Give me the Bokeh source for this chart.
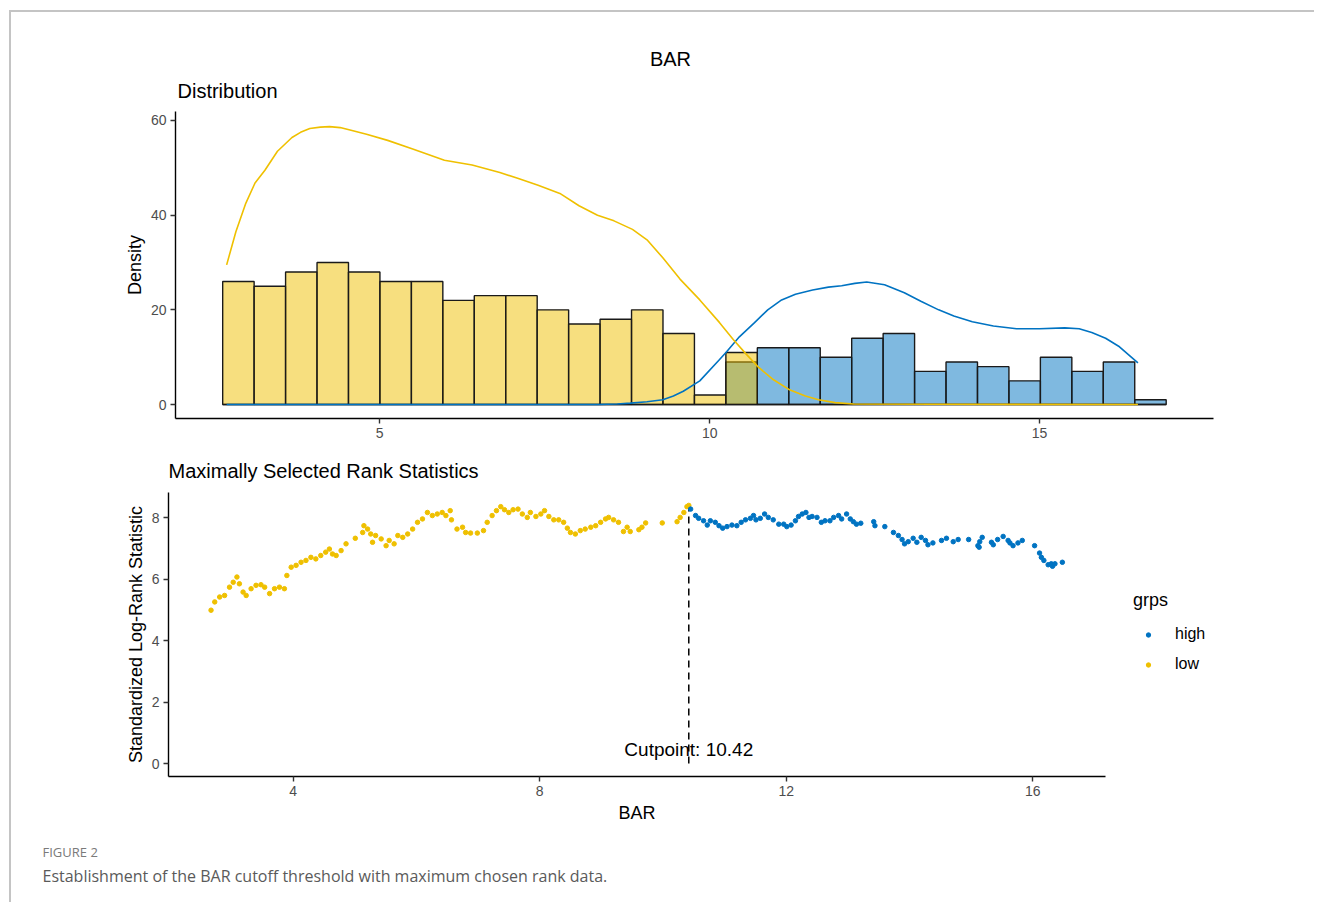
import numpy as np
from bokeh.plotting import figure
from bokeh.models import Range1d, Legend, LegendItem, Div, FixedTicker
from bokeh.layouts import column, row
from bokeh.embed import file_html
from bokeh.resources import INLINE
from bokeh.core.properties import value

# ---------------- data ----------------
# histogram (30 bins)
bin_start = 2.62
bin_width = 0.4766
low_counts = [26, 25, 28, 30, 28, 26, 26, 22, 23, 23, 20, 17, 18, 20, 15, 2, 11,
              0, 0, 0, 0, 0, 0, 0, 0, 0, 0, 0, 0, 0]
high_counts = [0, 0, 0, 0, 0, 0, 0, 0, 0, 0, 0, 0, 0, 0, 0, 0,
               9, 12, 12, 10, 14, 15, 7, 9, 8, 5, 10, 7, 9, 1]

# density curves (scaled)
low_dens_x = [2.68, 2.82, 2.97, 3.11, 3.26, 3.45, 3.67, 3.80, 3.94, 4.10, 4.24, 4.40, 4.55,
              4.80, 5.12, 5.50, 5.98, 6.40, 6.82, 7.09, 7.40, 7.73, 8.02, 8.30, 8.55, 8.83,
              9.05, 9.29, 9.55, 9.85, 10.15, 10.36, 10.55, 10.73, 10.95, 11.20, 11.45, 11.65,
              11.90, 12.18, 16.49]
low_dens_y = [29.5, 36.5, 42.5, 46.8, 49.5, 53.5, 56.4, 57.5, 58.3, 58.6, 58.7, 58.5, 58.0,
              57.1, 55.8, 54.0, 51.6, 50.6, 49.0, 47.8, 46.3, 44.6, 42.0, 40.0, 38.8, 37.0,
              34.8, 31.0, 26.5, 22.1, 17.3, 13.7, 10.7, 8.0, 5.4, 3.2, 1.8, 1.0,
              0.4, 0.1, 0.0]
high_dens_x = [2.68, 8.30, 8.60, 8.80, 9.05, 9.29, 9.45, 9.60, 9.85, 10.15, 10.26, 10.45,
               10.68, 10.88, 11.09, 11.30, 11.56, 11.80, 12.00, 12.20, 12.38, 12.65, 12.95, 13.20,
               13.47, 13.70, 13.98, 14.30, 14.65, 15.00, 15.38, 15.60, 15.79, 16.00, 16.21, 16.49]
high_dens_y = [0.0, 0.0, 0.1, 0.3, 0.6, 1.0, 1.8, 2.8, 5.0, 9.5, 11.2, 14.3,
               17.3, 20.0, 22.1, 23.3, 24.2, 24.8, 25.1, 25.6, 25.9, 25.3, 23.6, 21.8,
               20.0, 18.7, 17.5, 16.6, 16.0, 16.0, 16.2, 16.0, 15.2, 14.0, 12.2, 8.8]

# maximally selected rank statistics
low_x = [2.67, 2.73, 2.81, 2.89, 2.97, 3.03, 3.09, 3.13, 3.19, 3.24, 3.32, 3.40, 3.48, 3.54,
         3.62, 3.70, 3.78, 3.86, 3.90, 3.97, 4.05, 4.13, 4.21, 4.29, 4.37, 4.45, 4.53, 4.59,
         4.64, 4.70, 4.78, 4.86, 5.01, 5.13, 5.15, 5.21, 5.26, 5.29, 5.34, 5.43, 5.51, 5.56,
         5.64, 5.70, 5.78, 5.86, 5.94, 6.02, 6.10, 6.18, 6.26, 6.34, 6.42, 6.48, 6.55, 6.57,
         6.66, 6.75, 6.80, 6.88, 6.99, 7.09, 7.15, 7.23, 7.30, 7.37, 7.43, 7.50, 7.57, 7.65,
         7.72, 7.80, 7.85, 7.94, 8.02, 8.08, 8.15, 8.23, 8.31, 8.39, 8.45, 8.50, 8.58, 8.66,
         8.74, 8.83, 8.91, 8.99, 9.07, 9.12, 9.20, 9.28, 9.36, 9.42, 9.47, 9.61, 9.66, 9.72,
         9.99, 10.23, 10.28, 10.34, 10.39, 10.42]
low_y = [4.99, 5.26, 5.42, 5.47, 5.74, 5.90, 6.07, 5.85, 5.58, 5.47, 5.69, 5.80, 5.82, 5.74,
         5.53, 5.69, 5.74, 5.69, 6.12, 6.39, 6.45, 6.55, 6.61, 6.71, 6.66, 6.77, 6.88, 6.98,
         6.82, 6.77, 6.93, 7.15, 7.33, 7.52, 7.74, 7.63, 7.47, 7.20, 7.42, 7.31, 7.09, 7.26,
         7.15, 7.42, 7.36, 7.47, 7.63, 7.85, 7.96, 8.17, 8.07, 8.12, 8.17, 8.07, 8.23, 7.93,
         7.63, 7.69, 7.52, 7.50, 7.50, 7.58, 7.85, 8.07, 8.23, 8.36, 8.26, 8.17, 8.26, 8.28,
         8.12, 8.01, 8.17, 8.04, 8.12, 8.23, 8.04, 7.93, 7.93, 7.85, 7.66, 7.52, 7.47, 7.58,
         7.63, 7.69, 7.74, 7.85, 7.96, 8.01, 7.93, 7.85, 7.55, 7.69, 7.55, 7.61, 7.69, 7.83,
         7.83, 7.87, 8.01, 8.17, 8.36, 8.40]
high_x = [10.45, 10.53, 10.58, 10.66, 10.72, 10.77, 10.85, 10.91, 10.97, 11.04, 11.12, 11.20,
          11.27, 11.34, 11.42, 11.47, 11.51, 11.58, 11.65, 11.71, 11.79, 11.88, 11.96, 12.01,
          12.08, 12.15, 12.20, 12.26, 12.32, 12.37, 12.42, 12.50, 12.57, 12.63, 12.71, 12.77,
          12.85, 12.90, 12.98, 13.04, 13.09, 13.14, 13.21, 13.42, 13.44, 13.60, 13.74, 13.82,
          13.88, 13.92, 13.98, 14.06, 14.12, 14.19, 14.26, 14.30, 14.38, 14.52, 14.60, 14.71,
          14.79, 14.96, 15.11, 15.13, 15.14, 15.18, 15.33, 15.36, 15.43, 15.52, 15.60, 15.63,
          15.68, 15.76, 15.83, 16.03, 16.11, 16.14, 16.18, 16.25, 16.30, 16.32, 16.36, 16.48]
high_y = [8.28, 8.07, 7.98, 7.90, 7.76, 7.90, 7.85, 7.74, 7.66, 7.71, 7.76, 7.74,
          7.85, 7.93, 7.98, 8.07, 7.93, 7.98, 8.12, 8.01, 7.93, 7.79, 7.79, 7.71,
          7.76, 7.90, 8.04, 8.12, 8.17, 8.01, 8.04, 8.01, 7.85, 7.90, 7.90, 8.01,
          8.07, 7.96, 8.12, 7.96, 7.87, 7.79, 7.82, 7.87, 7.74, 7.71, 7.52, 7.42,
          7.29, 7.15, 7.22, 7.33, 7.20, 7.36, 7.26, 7.12, 7.18, 7.26, 7.33, 7.22,
          7.29, 7.29, 7.09, 7.04, 7.22, 7.36, 7.20, 7.12, 7.29, 7.39, 7.26, 7.18,
          7.09, 7.18, 7.26, 7.09, 6.85, 6.71, 6.61, 6.47, 6.50, 6.42, 6.50, 6.55]
cutpoint = 10.42
cut_stat = 8.40

top_xticks = [5, 10, 15]
top_yticks = [0, 20, 40, 60]
bot_xticks = [4, 8, 12, 16]
bot_yticks = [0, 2, 4, 6, 8]
group_labels = ["high", "low"]

# ---------------- styling ----------------
YELLOW = "#EFC000"
BLUE = "#0073C2"
FONT = "Liberation Sans"
CAP_FONT = "Open Sans"
GREY = "#c4c4c4"
W = 1303


def style(p):
    p.background_fill_color = "white"
    p.border_fill_color = "white"
    p.outline_line_color = None
    p.grid.visible = False
    for ax in p.axis:
        ax.axis_line_color = "black"
        ax.axis_line_width = 1.4
        ax.major_tick_line_color = "#333333"
        ax.major_tick_line_width = 1.4
        ax.major_tick_out = 5
        ax.major_tick_in = 0
        ax.minor_tick_line_color = None
        ax.major_label_text_font = FONT
        ax.major_label_text_font_size = "14px"
        ax.major_label_text_color = "#4D4D4D"
        ax.major_label_standoff = 4
        ax.axis_label_text_font = FONT
        ax.axis_label_text_font_size = "18px"
        ax.axis_label_text_font_style = "normal"
        ax.axis_label_text_color = "black"
        ax.axis_label_standoff = 3


def text_panel(w, h):
    """A blank strip whose frame fills it, used to hold titles/caption in pixel units."""
    f = figure(width=w, height=h, x_range=Range1d(0, w), y_range=Range1d(h, 0),
               min_border=0, output_backend="svg", toolbar_location=None)
    f.axis.visible = False
    f.grid.visible = False
    f.outline_line_color = None
    f.background_fill_color = "white"
    f.border_fill_color = "white"
    return f


def put_text(f, x, y, s, size, align="left", font=FONT, color="black"):
    f.text(x=[x], y=[y], text=[s], text_align=align, text_baseline="middle",
           text_font=value(font), text_font_size=size, text_color=color)


# ---------------- header strip ----------------
head = text_panel(W, 99)
put_text(head, 659, 46, "BAR", "20px", align="center")
put_text(head, 166, 78, "Distribution", "20px")

# ---------------- top: distribution ----------------
top = figure(frame_width=1038, frame_height=307,
             min_border_left=164, min_border_right=101, min_border_top=0, min_border_bottom=30,
             x_range=Range1d(1.905, 17.635), y_range=Range1d(-2.95, 61.9),
             output_backend="svg", toolbar_location=None)
style(top)
top.xaxis.ticker = FixedTicker(ticks=top_xticks)
top.yaxis.ticker = FixedTicker(ticks=top_yticks)
top.yaxis.axis_label = "Density"

lefts = bin_start + bin_width * np.arange(len(low_counts))
rights = lefts + bin_width
top.quad(left=lefts, right=rights, bottom=0, top=high_counts,
         fill_color=BLUE, fill_alpha=0.5, line_color="#1a1a1a", line_width=1.4)
top.quad(left=lefts, right=rights, bottom=0, top=low_counts,
         fill_color=YELLOW, fill_alpha=0.5, line_color="#1a1a1a", line_width=1.4)
top.line(high_dens_x, high_dens_y, line_color=BLUE, line_width=1.6)
top.line(low_dens_x, low_dens_y, line_color=YELLOW, line_width=1.6)

# ---------------- second header strip ----------------
head2 = text_panel(W, 44)
put_text(head2, 157, 22, "Maximally Selected Rank Statistics", "20px")

# ---------------- bottom: rank statistics ----------------
bot = figure(frame_width=937, frame_height=284,
             min_border_left=157, min_border_right=10, min_border_top=0, min_border_bottom=46,
             x_range=Range1d(1.98, 17.18), y_range=Range1d(-0.42, 8.82),
             output_backend="svg", toolbar_location=None)
style(bot)
bot.xaxis.ticker = FixedTicker(ticks=bot_xticks)
bot.yaxis.ticker = FixedTicker(ticks=bot_yticks)
bot.xaxis.axis_label = "BAR"
bot.yaxis.axis_label = "Standardized Log-Rank Statistic"
bot.xaxis.axis_label_standoff = 4

bot.segment(x0=[cutpoint], y0=[0], x1=[cutpoint], y1=[cut_stat],
            line_color="black", line_width=1.5, line_dash="7 5")
bot.scatter(low_x, low_y, size=4.5, color=YELLOW)
bot.scatter(high_x, high_y, size=4.5, color=BLUE)
bot.text(x=[cutpoint], y=[0], text=["Cutpoint: " + f"{cutpoint:.2f}"],
         text_align="center", text_baseline="bottom", y_offset=-4,
         text_font=value(FONT), text_font_size="19px", text_color="black")

# ---------------- legend strip (right of bottom panel) ----------------
bot_h = 284 + 46
leg_w = W - (157 + 937 + 10)
lf = text_panel(leg_w, bot_h)
# legend key glyphs (kept out of view; only their legend swatches are shown)
d_high = lf.scatter(x=[-100], y=[-100], size=4.5, color=BLUE)
d_low = lf.scatter(x=[-100], y=[-100], size=4.5, color=YELLOW)
legend = Legend(items=[LegendItem(label=group_labels[0], renderers=[d_high]),
                       LegendItem(label=group_labels[1], renderers=[d_low])],
                title="grps", location=(18, 149))
legend.title_text_font = FONT
legend.title_text_font_size = "18px"
legend.title_text_font_style = "normal"
legend.title_text_color = "black"
legend.title_standoff = 14
legend.label_text_font = FONT
legend.label_text_font_size = "16px"
legend.label_text_color = "black"
legend.glyph_width = 30
legend.glyph_height = 11
legend.label_height = 11
legend.label_standoff = 12
legend.spacing = 12
legend.padding = 0
legend.margin = 0
legend.border_line_color = None
legend.background_fill_alpha = 0
lf.add_layout(legend)

# ---------------- caption strip ----------------
cap = text_panel(W, 80)
put_text(cap, 31, 26, "FIGURE 2", "13px", font=CAP_FONT, color="#7a7a7a")
put_text(cap, 31, 50, "Establishment of the BAR cutoff threshold with maximum chosen rank data.",
         "16px", font=CAP_FONT, color="#5a5a5a")

# ---------------- frame & layout ----------------


def block(w, h, color=None):
    st = {"background-color": color} if color else {}
    return Div(text="", width=w, height=h, margin=0, styles=st)


content = column(row(head, spacing=0),
                 row(top, spacing=0),
                 row(head2, spacing=0),
                 row(bot, column(lf, spacing=0), spacing=0),
                 row(cap, spacing=0),
                 spacing=0)

layout = column(
    block(1314, 10),
    row(block(9, 892),
        column(block(1305, 2, GREY),
               row(block(2, 890, GREY), content, spacing=0),
               spacing=0),
        spacing=0),
    spacing=0)

open("out.html", "w").write(file_html(layout, INLINE))
